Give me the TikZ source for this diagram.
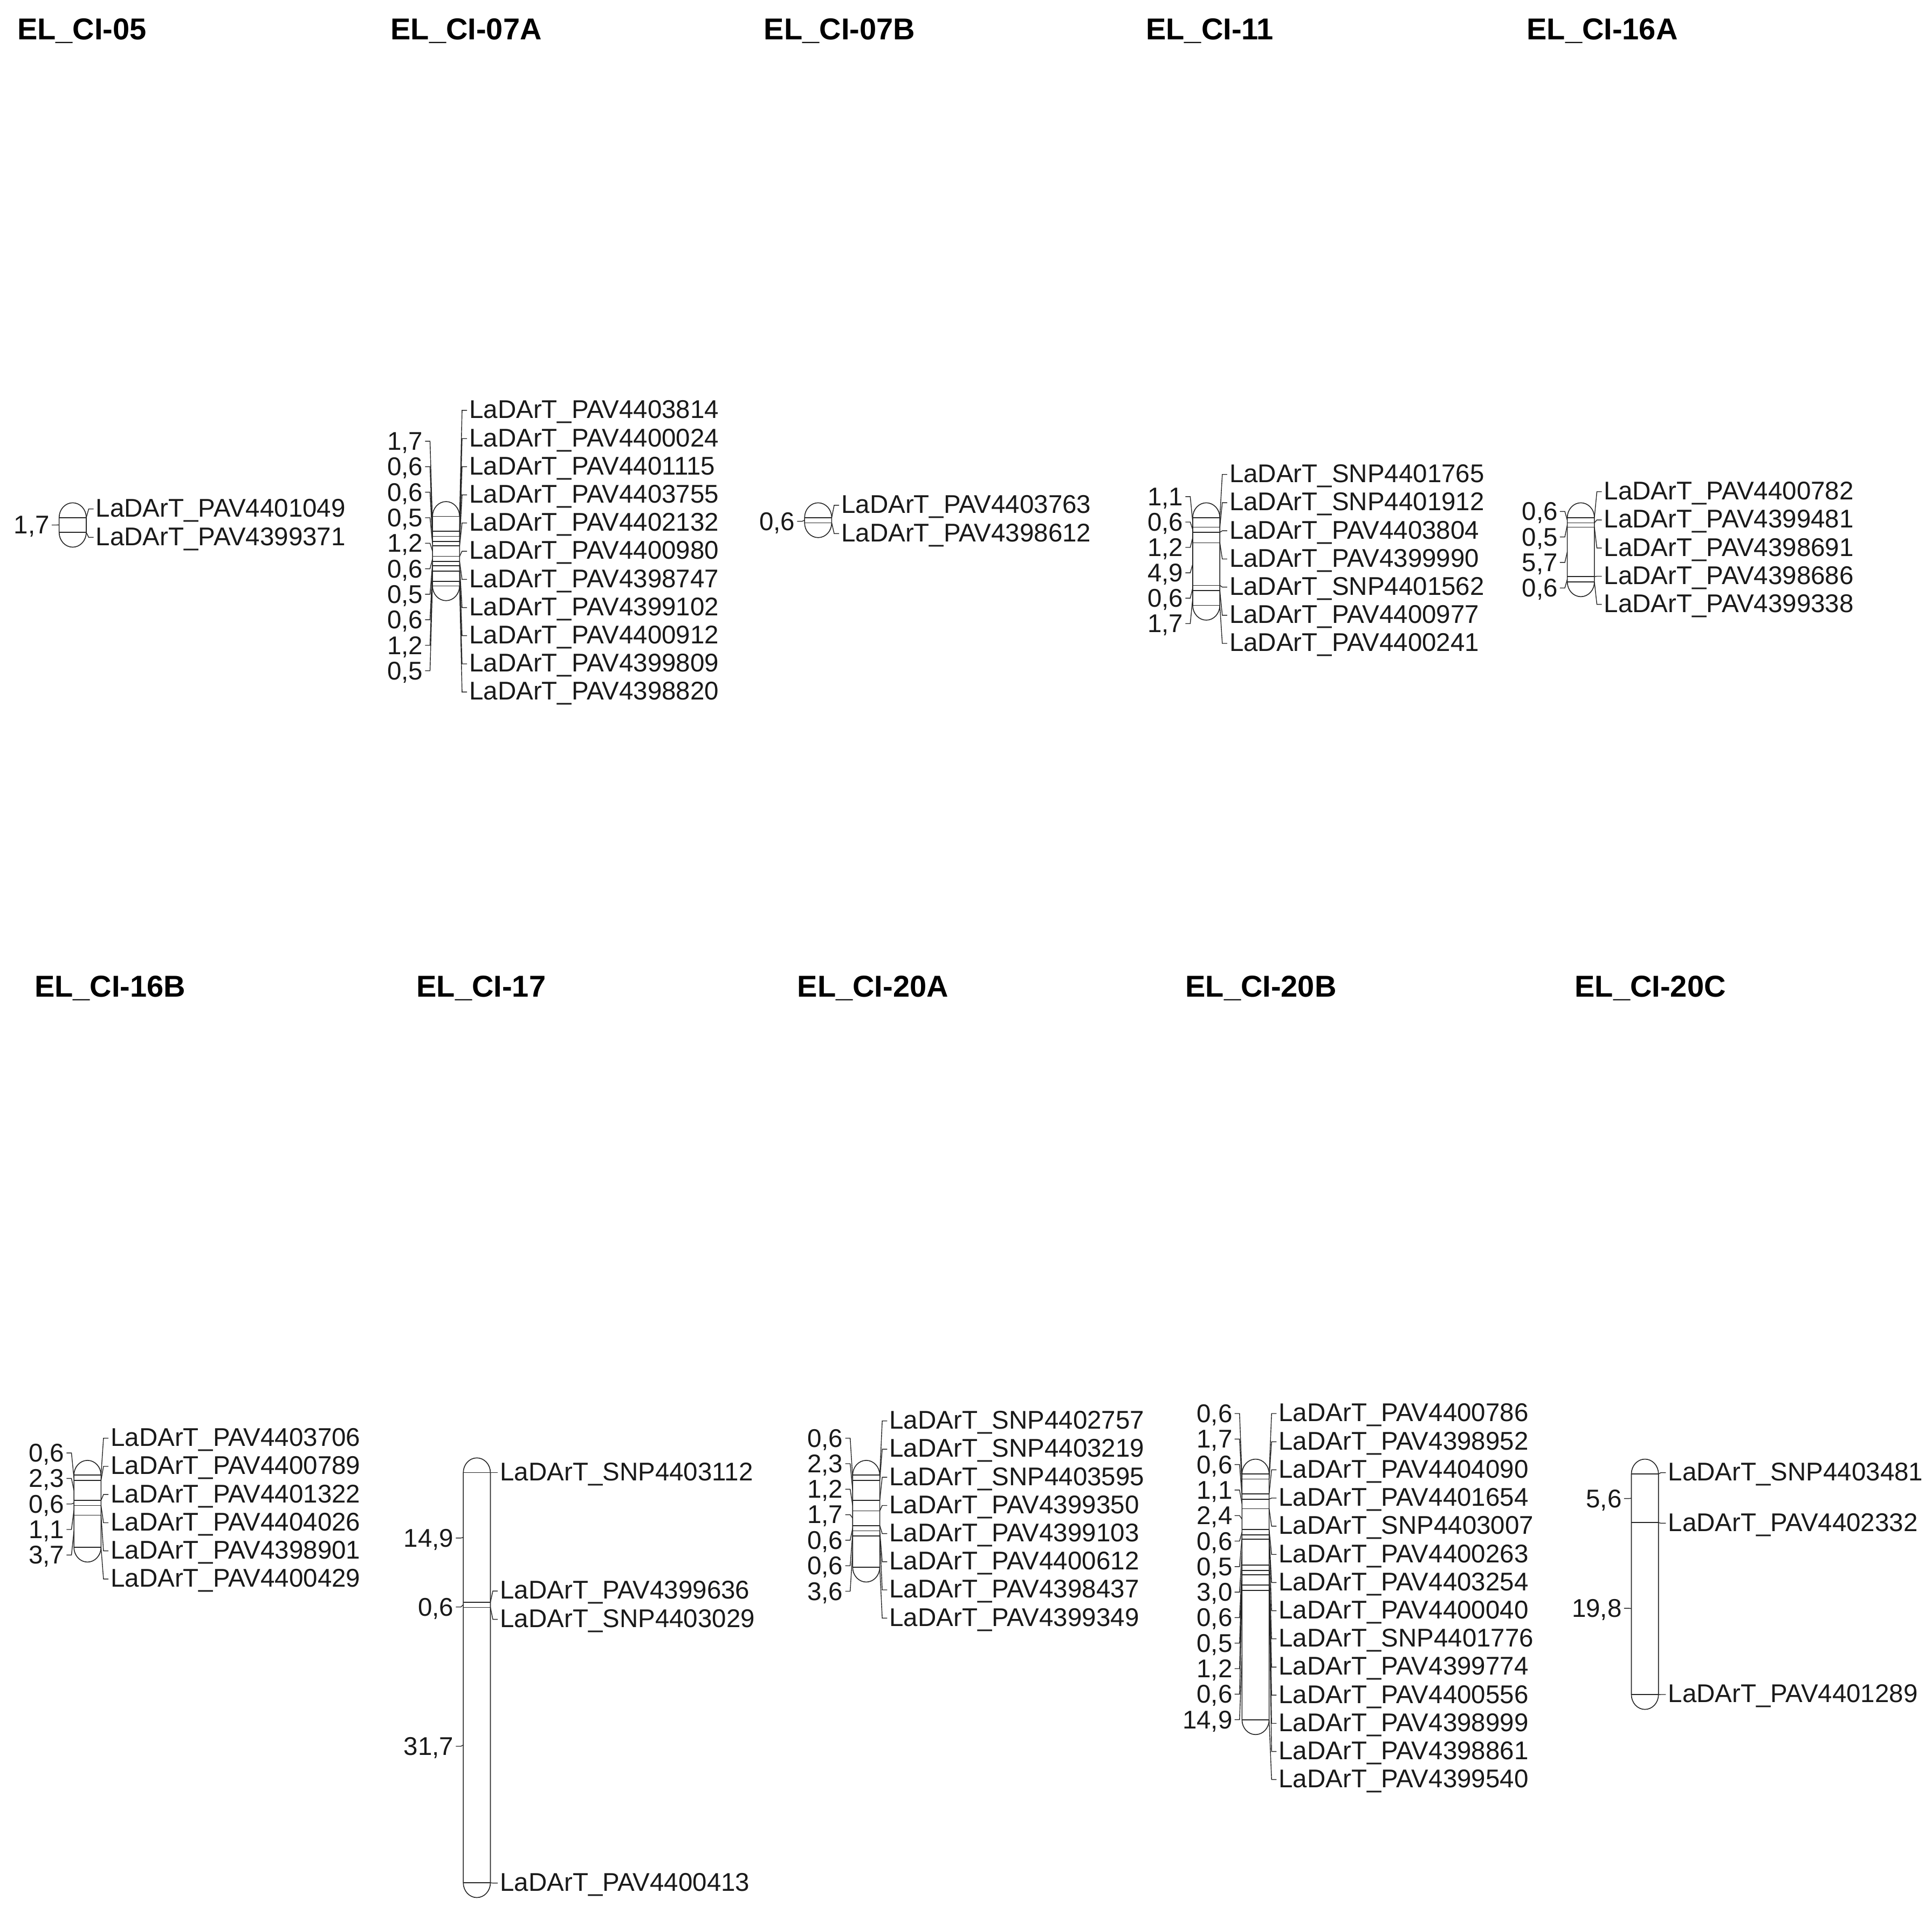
\documentclass[tikz,border=0pt]{standalone}
\usepackage{fontspec}
\setmainfont{Liberation Sans}
\begin{document}
\begin{tikzpicture}[x=2.285pt,y=-2.285pt,
  chr/.style={draw=black!85,line width=1.6pt,fill=white},
  mk/.style={draw=black!85,line width=1.6pt},
  ln/.style={draw=black!85,line width=1.4pt},
  lab/.style={font=\fontsize{47.5pt}{47.5pt}\selectfont,text=black!90,inner xsep=4pt,inner ysep=0pt,yshift=-3pt},
  ttl/.style={font=\bfseries\fontsize{56pt}{56pt}\selectfont,anchor=west,inner sep=0pt}]
\def\k{7.05}
\newcommand\chrm[6]{%
 \def\cx{#2}\def\mz{#3}%
 \draw[chr] ({\cx-11},\mz) -- ({\cx-11},{\mz+#4*\k}) arc[start angle=180,end angle=0,x radius=11,y radius=12] -- ({\cx+11},\mz) arc[start angle=0,end angle=-180,x radius=11,y radius=12] -- cycle;
 \foreach \qc/\qy/\qn [count=\qi] in {#5}{%
   \draw[mk] ({\cx-11},{\mz+\qc*\k}) -- ({\cx+11},{\mz+\qc*\k});
   \node[lab,anchor=west] (#1r\qi) at ({\cx+17},\qy) {LaDArT\_\qn};
   \draw[ln] ({\cx+11},{\mz+\qc*\k}) -- ({\cx+13},\qy) -- ({\cx+17},\qy);
 }
 \foreach \qa/\qb/\qy/\qt [count=\qi] in {#6}{%
   \node[lab,anchor=east] (#1l\qi) at ({\cx-17},\qy) {\qt};
   \draw[ln] ({\cx-11},{\mz+(\qa+\qb)/2*\k}) -- ({\cx-13},\qy) -- ({\cx-17},\qy);
 }
}
\useasboundingbox (0,0) rectangle (1568,1547);
% titles
\node[ttl] (t1) at (14,25) {EL\_CI-05};
\node[ttl] (t2) at (317,25) {EL\_CI-07A};
\node[ttl] (t3) at (620,25) {EL\_CI-07B};
\node[ttl] (t4) at (930,25) {EL\_CI-11};
\node[ttl] (t5) at (1239,25) {EL\_CI-16A};
\node[ttl] (t6) at (28,802) {EL\_CI-16B};
\node[ttl] (t7) at (338,802) {EL\_CI-17};
\node[ttl] (t8) at (647,802) {EL\_CI-20A};
\node[ttl] (t9) at (962,802) {EL\_CI-20B};
\node[ttl] (t10) at (1278,802) {EL\_CI-20C};
% chromosomes
\chrm{a}{59}{420}{1.7}{0/413/PAV4401049,1.7/436/PAV4399371}{0/1.7/426/1{,}7}
\chrm{b}{362}{419}{8.0}{0/333/PAV4403814,1.7/355.9/PAV4400024,2.3/378.7/PAV4401115,2.9/401.6/PAV4403755,3.4/424.4/PAV4402132,4.6/447.3/PAV4400980,5.2/470.1/PAV4398747,5.7/493/PAV4399102,6.3/515.8/PAV4400912,7.5/538.7/PAV4399809,8.0/561.5/PAV4398820}
 {0/1.7/358/1{,}7,1.7/2.3/378.7/0{,}6,2.3/2.9/399.4/0{,}6,2.9/3.4/420.1/0{,}5,3.4/4.6/440.8/1{,}2,4.6/5.2/461.5/0{,}6,5.2/5.7/482.2/0{,}5,5.7/6.3/502.9/0{,}6,6.3/7.5/523.6/1{,}2,7.5/8.0/544.3/0{,}5}
\chrm{c}{664}{420}{0.6}{0/410/PAV4403763,0.6/433/PAV4398612}{0/0.6/423/0{,}6}
\chrm{d}{979}{420}{10.1}{0/385/SNP4401765,1.1/407.9/SNP4401912,1.7/430.7/PAV4403804,2.9/453.6/PAV4399990,7.8/476.4/SNP4401562,8.4/499.3/PAV4400977,10.1/522.1/PAV4400241}
 {0/1.1/403/1{,}1,1.1/1.7/423.6/0{,}6,1.7/2.9/444.2/1{,}2,2.9/7.8/464.8/4{,}9,7.8/8.4/485.4/0{,}6,8.4/10.1/506/1{,}7}
\chrm{e}{1283}{420}{7.4}{0/399/PAV4400782,0.6/421.9/PAV4399481,1.1/444.7/PAV4398691,6.8/467.6/PAV4398686,7.4/490.4/PAV4399338}
 {0/0.6/415/0{,}6,0.6/1.1/435.7/0{,}5,1.1/6.8/456.4/5{,}7,6.8/7.4/477.1/0{,}6}
\chrm{f}{71}{1197}{8.3}{0/1167/PAV4403706,0.6/1189.9/PAV4400789,2.9/1212.7/PAV4401322,3.5/1235.6/PAV4404026,4.6/1258.4/PAV4398901,8.3/1281.3/PAV4400429}
 {0/0.6/1179/0{,}6,0.6/2.9/1199.7/2{,}3,2.9/3.5/1220.4/0{,}6,3.5/4.6/1241.1/1{,}1,4.6/8.3/1261.8/3{,}7}
\chrm{g}{387}{1195}{47.2}{0/1195/SNP4403112,14.9/1291/PAV4399636,15.5/1314/SNP4403029,47.2/1528/PAV4400413}
 {0/14.9/1248/14{,}9,14.9/15.5/1304/0{,}6,15.5/47.2/1417/31{,}7}
\chrm{h}{703}{1197}{10.6}{0/1153/SNP4402757,0.6/1175.9/SNP4403219,2.9/1198.7/SNP4403595,4.1/1221.6/PAV4399350,5.8/1244.4/PAV4399103,6.4/1267.3/PAV4400612,7.0/1290.1/PAV4398437,10.6/1313/PAV4399349}
 {0/0.6/1167/0{,}6,0.6/2.9/1187.7/2{,}3,2.9/4.1/1208.4/1{,}2,4.1/5.8/1229.1/1{,}7,5.8/6.4/1249.8/0{,}6,6.4/7.0/1270.5/0{,}6,7.0/10.6/1291.2/3{,}6}
\chrm{i}{1019}{1196}{28.3}{0/1147/PAV4400786,0.6/1169.9/PAV4398952,2.3/1192.7/PAV4404090,2.9/1215.6/PAV4401654,4.0/1238.4/SNP4403007,6.4/1261.3/PAV4400263,7.0/1284.1/PAV4403254,7.5/1307/PAV4400040,10.5/1329.8/SNP4401776,11.1/1352.7/PAV4399774,11.6/1375.5/PAV4400556,12.8/1398.4/PAV4398999,13.4/1421.2/PAV4398861,28.3/1444/PAV4399540}
 {0/0.6/1147/0{,}6,0.6/2.3/1167.7/1{,}7,2.3/2.9/1188.4/0{,}6,2.9/4.0/1209.1/1{,}1,4.0/6.4/1229.8/2{,}4,6.4/7.0/1250.5/0{,}6,7.0/7.5/1271.2/0{,}5,7.5/10.5/1291.9/3{,}0,10.5/11.1/1312.6/0{,}6,11.1/11.6/1333.3/0{,}5,11.6/12.8/1354/1{,}2,12.8/13.4/1374.7/0{,}6,13.4/28.3/1395.4/14{,}9}
\chrm{j}{1335}{1196}{25.4}{0/1195/SNP4403481,5.6/1236/PAV4402332,25.4/1375/PAV4401289}
 {0/5.6/1216/5{,}6,5.6/25.4/1305/19{,}8}
\end{tikzpicture}
\end{document}
